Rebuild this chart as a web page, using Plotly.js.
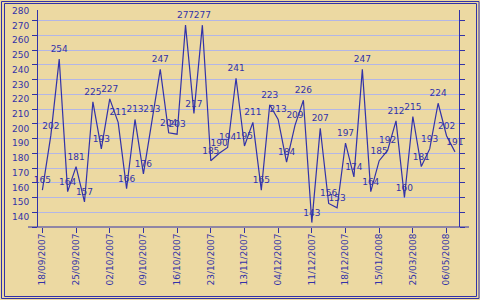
<!DOCTYPE html>
<html><head><meta charset="utf-8">
<script src="https://cdn.plot.ly/plotly-3.0.1.min.js"></script>
<style>html,body{margin:0;padding:0;background:#ecd9a2}#chart{width:480px;height:300px}</style>
</head><body><div id="chart"></div>
<script>
// ---- data ----
const values = [165,202,254,164,181,157,225,193,227,211,166,213,176,213,247,204,203,277,217,277,185,190,194,241,195,211,165,223,213,184,209,226,143,207,156,153,197,174,247,164,185,192,212,160,215,181,193,224,202,191];
const tickLabels = ['18/09/2007','25/09/2007','02/10/2007','09/10/2007','16/10/2007','23/10/2007','13/11/2007','04/12/2007','11/12/2007','18/12/2007','15/01/2008','25/03/2008','06/05/2008'];
const yTickValues = [140,150,160,170,180,190,200,210,220,230,240,250,260,270,280];
const tickEvery = 4;

// ---- derived ----
const pointIndex = values.map((v, i) => i);
const tickPositions = tickLabels.map((t, i) => i * tickEvery);
const valueLabels = values.map(v => String(v));

const BLUE = '#3232a8';
const GRID = '#b3b6e6';
const BG = '#ecd9a2';
const FONT = 'DejaVu Sans, Verdana, sans-serif';

const M = {l: 38, r: 21, t: 10, b: 73};
const W = 480 - M.l - M.r, H = 300 - M.t - M.b;
const fx = px => (px - M.l) / W;
const fy = py => (300 - M.b - py) / H;

const xRange = [-0.52, values.length - 0.52];
const yRange = [140, 287.3];

const trace = {
  x: pointIndex, y: values, text: valueLabels,
  type: 'scatter', mode: 'lines+markers+text',
  line: {color: BLUE, width: 1.2},
  marker: {size: 6, color: 'rgba(0,0,0,0)'},
  textposition: 'top center',
  textfont: {family: FONT, size: 9, color: BLUE},
  cliponaxis: false, hoverinfo: 'none', showlegend: false,
  xaxis: 'x', yaxis: 'y'
};

const layout = {
  width: 480, height: 300,
  margin: M,
  paper_bgcolor: BG, plot_bgcolor: BG,
  font: {family: FONT, size: 9, color: BLUE},
  showlegend: false,
  xaxis: {
    range: xRange, tickmode: 'array', tickvals: tickPositions, ticktext: tickLabels,
    tickangle: -90, ticks: 'outside', ticklen: 5, tickcolor: BLUE, tickwidth: 1,
    showgrid: false, zeroline: false, showline: false, ticklabelstandoff: -3,
    tickfont: {family: FONT, size: 9, color: BLUE}, fixedrange: true
  },
  xaxis2: {
    overlaying: 'x', anchor: 'y', side: 'bottom', range: xRange,
    tickmode: 'array', tickvals: tickPositions, ticks: 'inside', ticklen: 5,
    tickcolor: BLUE, tickwidth: 1, showticklabels: false, showgrid: false,
    zeroline: false, showline: false
  },
  yaxis: {
    range: yRange, tickmode: 'array', tickvals: yTickValues,
    ticks: 'outside', ticklen: 5, tickcolor: BLUE, tickwidth: 1,
    showline: true, linecolor: BLUE, linewidth: 1, mirror: 'ticks',
    showgrid: true, gridcolor: GRID, gridwidth: 1, zeroline: false,
    ticklabelshift: -10, ticklabelstandoff: 1,
    tickfont: {family: FONT, size: 9, color: BLUE}, fixedrange: true
  },
  yaxis2: {
    overlaying: 'y', anchor: 'x', side: 'left', range: yRange,
    tickmode: 'array', tickvals: yTickValues, ticks: 'inside', ticklen: 5,
    tickcolor: BLUE, tickwidth: 1, mirror: 'ticks', showline: false,
    showticklabels: false, showgrid: false, zeroline: false
  },
  shapes: [
    {type: 'rect', xref: 'paper', yref: 'paper', x0: fx(1.5), x1: fx(479), y0: fy(1.5), y1: fy(298.5),
     line: {color: BLUE, width: 1}, layer: 'above'},
    {type: 'rect', xref: 'paper', yref: 'paper', x0: fx(4.5), x1: fx(476.5), y0: fy(3.5), y1: fy(296.5),
     line: {color: BLUE, width: 1}, layer: 'above'},
    {type: 'line', xref: 'paper', yref: 'paper', x0: fx(28), x1: fx(469), y0: 0, y1: 0,
     line: {color: BLUE, width: 1}, layer: 'above'}
  ]
};

Plotly.newPlot('chart', [trace], layout, {staticPlot: true, displayModeBar: false});
</script>
</body></html>
